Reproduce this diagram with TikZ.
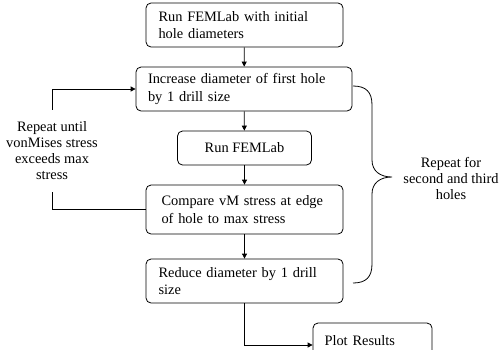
\documentclass[tikz,border=0pt]{standalone}
\usepackage{fontspec}
\setmainfont{Liberation Serif}
\usetikzlibrary{arrows.meta}
\begin{document}
\begin{tikzpicture}[x=1pt,y=-1pt,
  box/.style={draw, line width=0.8pt, rounded corners=5pt, inner sep=0pt,
    font=\fontsize{14.4}{17.5}\selectfont},
  side/.style={align=center, font=\fontsize{14.4}{16}\selectfont, inner sep=0pt},
  conn/.style={line width=0.8pt},
  arr/.style={conn, -{Triangle[length=5pt,width=5pt]}}]
\clip (0,0) rectangle (502,349);
\fill[white] (0,0) rectangle (502,349);
\node[box, minimum width=197pt, minimum height=44pt, text width=172pt, align=left] (b1) at (244.5,25)
  {\makebox[172pt][s]{Run FEMLab with initial}\\hole diameters};
\node[box, minimum width=216pt, minimum height=44pt, text width=192pt, align=left] (b2) at (244,89)
  {\makebox[192pt][s]{Increase diameter of first hole}\\by 1 drill size};
\node[box, minimum width=134pt, minimum height=34pt] (b3) at (244.5,148) {Run FEMLab};
\node[box, minimum width=197pt, minimum height=49pt, text width=166pt, align=left] (b4) at (244.5,209.5)
  {Compare vM stress at edge\\of hole to max stress};
\node[box, minimum width=197pt, minimum height=44pt, text width=172pt, align=left] (b5) at (244.5,281)
  {\makebox[172pt][s]{Reduce diameter by 1 drill}\\size};
\node[box, minimum width=119pt, minimum height=36pt, text width=96pt, align=left] (b6) at (372.5,341)
  {Plot Results};
\node[side, inner ysep=12pt] (rep) at (52,151) {Repeat until\\vonMises stress\\exceeds max\\stress};
\node[side] (rep2) at (451,178) {Repeat for\\second and third\\holes};
\draw[arr] (b1) -- (b2);
\draw[arr] (b2) -- (b3);
\draw[arr] (b3) -- (b4);
\draw[arr] (b4) -- (b5);
\draw[arr] (b5.south) |- ([yshift=-4pt]b6.west);
\draw[conn] (b4.west) -| (rep.south);
\draw[arr] (rep.north) |- (b2.west);
\coordinate (bt) at (353,86);
\coordinate (bb) at (353,283);
\coordinate (tip) at (392,177);
\draw[conn] (bt) .. controls (366,86) and (372,92) .. (372,105) -- (372,160)
  .. controls (372,171) and (380,177) .. (tip)
  .. controls (380,177) and (372,183) .. (372,194) -- (372,264)
  .. controls (372,277) and (366,283) .. (bb);
\end{tikzpicture}
\end{document}
